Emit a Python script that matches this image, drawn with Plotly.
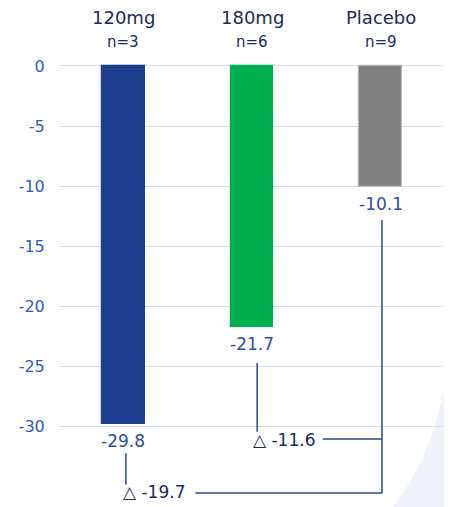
import plotly.graph_objects as go

categories = ["120mg", "180mg", "Placebo"]
n_labels = ["n=3", "n=6", "n=9"]
values = [-29.8, -21.7, -10.1]
value_labels = ["-29.8", "-21.7", "-10.1"]
deltas = [-19.7, -11.6]
colors = ["#1F3E8F", "#00AF50", "#808080"]
border_colors = ["#1F3E8F", "#00AF50", "#B5B5B5"]
y_ticks = [0, -5, -10, -15, -20, -25, -30]

FONT = "DejaVu Sans"
NAVY = "#1B2A5C"
BLUE = "#2B4FA8"
LINE = "#2A4690"

x = list(range(len(categories)))
fig = go.Figure()
fig.add_trace(go.Bar(
    x=x, y=values, width=0.33,
    marker=dict(color=colors, line=dict(color=border_colors, width=1.2)),
    hoverinfo="skip", showlegend=False,
))

ann = []
for i, (c, n) in enumerate(zip(categories, n_labels)):
    ann.append(dict(x=i, y=1, xref="x", yref="paper", yanchor="bottom", yshift=26,
                    text=c, showarrow=False, font=dict(family=FONT, size=18, color=NAVY)))
    ann.append(dict(x=i, y=1, xref="x", yref="paper", yanchor="bottom", yshift=3,
                    text=n, showarrow=False, font=dict(family=FONT, size=15, color=NAVY)))
for i, (v, t) in enumerate(zip(values, value_labels)):
    ann.append(dict(x=i, y=v, xref="x", yref="y", yanchor="top", yshift=-5,
                    text=t, showarrow=False, font=dict(family=FONT, size=17, color=BLUE)))

# delta annotations
ann.append(dict(x=1.25, y=-31.1, xref="x", yref="y", text="△ " + f"{deltas[1]:.1f}",
                showarrow=False, font=dict(family=FONT, size=17, color=NAVY)))
ann.append(dict(x=0.24, y=-35.4, xref="x", yref="y", text="△ " + f"{deltas[0]:.1f}",
                showarrow=False, font=dict(family=FONT, size=17, color=NAVY)))

lw = dict(color=LINE, width=1.5)
shapes = [
    # decorative background swoosh
    dict(type="path", xref="x", yref="y", layer="below",
         path="M 2.56,-21.0 Q 2.5,-31.5 2.09,-36.66 L 2.56,-36.66 Z",
         fillcolor="#F0F2F9", line=dict(width=0)),
    # placebo vertical bracket
    dict(type="line", xref="x", yref="y", x0=2.01, x1=2.01, y0=values[2] - 2.7, y1=-35.5, line=lw),
    # 180mg connector
    dict(type="line", xref="x", yref="y", x0=1.04, x1=1.04, y0=values[1] - 3.0, y1=-30.4, line=lw),
    dict(type="line", xref="x", yref="y", x0=1.55, x1=2.01, y0=-31.0, y1=-31.0, line=lw),
    # 120mg connector
    dict(type="line", xref="x", yref="y", x0=0.02, x1=0.02, y0=values[0] - 2.4, y1=-34.8, line=lw),
    dict(type="line", xref="x", yref="y", x0=0.56, x1=2.01, y0=-35.5, y1=-35.5, line=lw),
]

fig.update_layout(
    width=444, height=499,
    margin=dict(l=51, r=7, t=48, b=0, autoexpand=False),
    paper_bgcolor="white", plot_bgcolor="white",
    annotations=ann, shapes=shapes,
    xaxis=dict(range=[-0.5, 2.5], showticklabels=False, showgrid=False, zeroline=False,
               showline=False, fixedrange=True, automargin=False),
    yaxis=dict(range=[-36.66, 0.83], tickvals=y_ticks, ticktext=[str(t) for t in y_ticks],
               showgrid=True, gridcolor="#D5DEF3", gridwidth=1.2, zeroline=False,
               showline=False, ticks="outside", ticklen=10, tickcolor="rgba(0,0,0,0)",
               tickfont=dict(family=FONT, size=16, color="#2B5CC2"), fixedrange=True,
               automargin=False),
    bargap=0,
)

fig.write_html("out.html")
